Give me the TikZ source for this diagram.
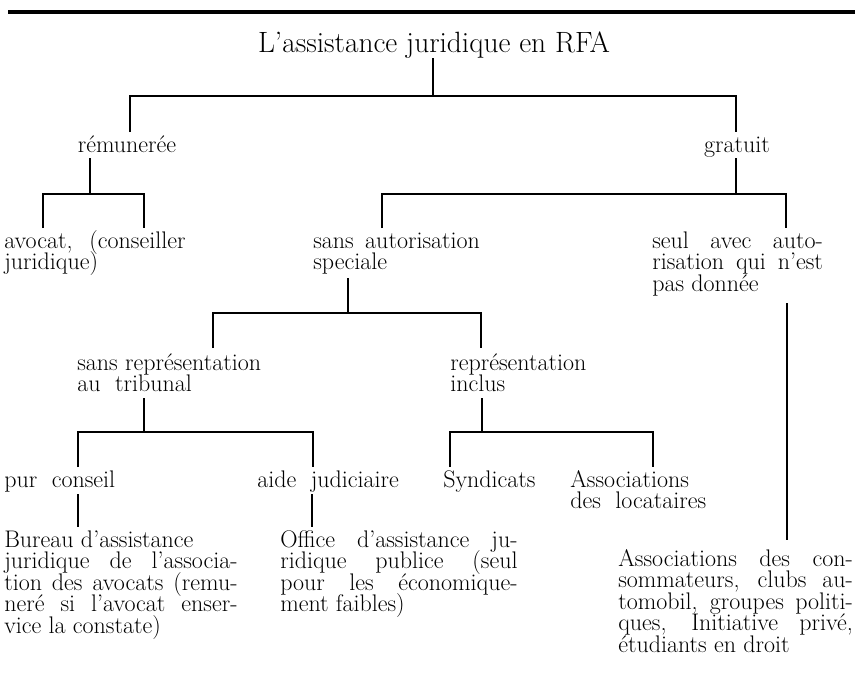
\documentclass[tikz,border=0pt]{standalone}
\usepackage{tikz}

% one justified line of a text block: width, text
\newcommand{\jl}[2]{\makebox[#1][s]{#2}}
\newcommand{\entryfont}{\fontsize{18}{16.1}\selectfont\lineskiplimit=-30pt}

\begin{document}
\begin{tikzpicture}[
  x=0.75pt, y=-0.75pt,
  head/.style  = {font=\fontsize{22}{26}\selectfont, inner sep=0pt, anchor=base},
  entry/.style = {font=\entryfont, align=left, inner sep=0pt, anchor=base west},
  link/.style  = {line width=2.2pt, line join=miter},
  hrule/.style = {line width=2.4pt},
]
\useasboundingbox (0,0) rectangle (858,678);

%% ── Title and top rule ────────────────────────────────────────────
\draw[hrule] (8,12) -- (855,12);
\node[head] (root) at (434,52) {L'assistance juridique en RFA};

%% ── Level 1 ───────────────────────────────────────────────────────
\node[entry, anchor=base] (remu) at (127,152) {rémunerée};
\node[entry, anchor=base] (grat) at (737,152) {gratuit};

%% ── Level 2 (anchors on the last line) ────────────────────────────
\node[entry] (avocat)  at (4,269.5)
    {\jl{136pt}{avocat, (conseiller}\\juridique)};
\node[entry] (sansaut) at (313,269.5)
    {\jl{125pt}{sans autorisation}\\speciale};
\node[entry] (seul)    at (652,291)
    {\jl{128pt}{seul avec auto-}\\\jl{128pt}{risation qui n'est}\\pas donnée};

%% ── Level 3 ───────────────────────────────────────────────────────
\node[entry] (sansrep) at (77,391.5)  {sans représentation\\au\ \ tribunal};
\node[entry] (repinc)  at (450,391.5) {représentation\\inclus};

%% ── Level 4 ───────────────────────────────────────────────────────
\node[entry] (pur)    at (4,487)     {pur\ \ conseil};
\node[entry] (aide)   at (257,487)   {aide\ \ judiciaire};
\node[entry] (synd)   at (443,487)   {Syndicats};
\node[entry] (assloc) at (570,508.5) {Associations\\des\ \ locataires};

%% ── Level 5 ───────────────────────────────────────────────────────
\node[entry] (bureau) at (4,633)
    {Bureau d'assistance\\
     \jl{175pt}{juridique de l'associa-}\\
     \jl{175pt}{tion des avocats (remu-}\\
     \jl{175pt}{neré si l'avocat enser-}\\
     vice la constate)};
\node[entry] (office) at (280,611.5)
    {\jl{178pt}{Office d'assistance ju-}\\
     \jl{178pt}{ridique publice (seul}\\
     \jl{178pt}{pour les économique-}\\
     ment faibles)};
\node[entry] (conso)  at (618,652)
    {\jl{176pt}{Associations des con-}\\
     \jl{176pt}{sommateurs, clubs au-}\\
     \jl{176pt}{tomobil, groupes politi-}\\
     \jl{176pt}{ques, Initiative privé,}\\
     étudiants en droit};

%% ── Stems, bars and drops ─────────────────────────────────────────
\coordinate (j0) at (433,96);
\coordinate (d-remu) at (130,132);  \coordinate (d-grat) at (736,132);
\draw[link] (j0 |- root.south) -- (j0);
\draw[link] (d-remu) |- (j0) -| (d-grat);

\coordinate (s1) at (90,158);   \coordinate (j1) at (90,194);
\coordinate (d-avo1) at (43,228); \coordinate (d-avo2) at (144,228);
\draw[link] (s1) -- (j1);
\draw[link] (d-avo1) |- (j1) -| (d-avo2);

\coordinate (s2) at (736,158);  \coordinate (j2) at (736,194);
\coordinate (d-saut) at (382,228); \coordinate (d-seul) at (786,228);
\draw[link] (s2) -- (j2);
\draw[link] (d-saut) |- (j2) -| (d-seul);

\coordinate (s3) at (348,278);  \coordinate (j3) at (348,313);
\coordinate (d-srep) at (213,348); \coordinate (d-rinc) at (481,348);
\draw[link] (s3) -- (j3);
\draw[link] (d-srep) |- (j3) -| (d-rinc);

\coordinate (s4) at (144,398);  \coordinate (j4) at (144,432);
\coordinate (d-pur) at (78,467); \coordinate (d-aide) at (313,467);
\draw[link] (s4) -- (j4);
\draw[link] (d-pur) |- (j4) -| (d-aide);

\coordinate (s5) at (482,398);  \coordinate (j5) at (482,432);
\coordinate (d-synd) at (450,467); \coordinate (d-aloc) at (653,467);
\draw[link] (s5) -- (j5);
\draw[link] (d-synd) |- (j5) -| (d-aloc);

%% ── Single links ──────────────────────────────────────────────────
\draw[link] (78,494)  -- (78,527);
\draw[link] (312,494) -- (312,527);
\draw[link] (787,303) -- (787,540);

\end{tikzpicture}
\end{document}
